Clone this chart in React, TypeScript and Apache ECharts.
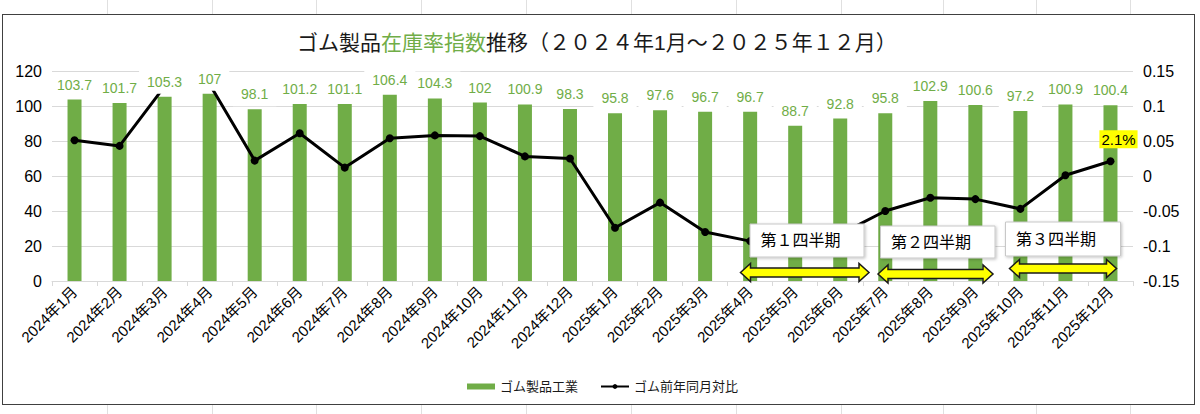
import React, { useEffect, useRef } from "react";
import * as echarts from "echarts";

const categories = [
  "2024年1月", "2024年2月", "2024年3月", "2024年4月", "2024年5月", "2024年6月",
  "2024年7月", "2024年8月", "2024年9月", "2024年10月", "2024年11月", "2024年12月",
  "2025年1月", "2025年2月", "2025年3月", "2025年4月", "2025年5月", "2025年6月",
  "2025年7月", "2025年8月", "2025年9月", "2025年10月", "2025年11月", "2025年12月",
];

const inventoryIndex = [
  103.7, 101.7, 105.3, 107, 98.1, 101.2, 101.1, 106.4, 104.3, 102, 100.9, 98.3,
  95.8, 97.6, 96.7, 96.7, 88.7, 92.8, 95.8, 102.9, 100.6, 97.2, 100.9, 100.4,
];

const yoyRatio = [
  0.051, 0.043, 0.128, 0.131, 0.022, 0.061, 0.012, 0.054, 0.058, 0.057, 0.028, 0.025,
  -0.074, -0.038, -0.08, -0.093, -0.1, -0.083, -0.05, -0.031, -0.033, -0.047, 0.001, 0.021,
];

const leftTicks = { min: 0, max: 120, interval: 20 };
const rightTicks = { min: -0.15, max: 0.15, interval: 0.05 };

const quarterLabels = ["第１四半期", "第２四半期", "第３四半期"];

const sheetColumns = [107, 212, 316, 421, 526, 631, 736, 841, 943, 1036, 1130];

const FONT = "'Liberation Sans', 'Noto Sans CJK JP', sans-serif";
const GREEN = "#70ad47";

function arrowPoints(x1: number, x2: number, cy: number) {
  const hl = 10, hh = 9, sh = 4.5;
  return [
    [x1, cy], [x1 + hl, cy - hh], [x1 + hl, cy - sh], [x2 - hl, cy - sh], [x2 - hl, cy - hh],
    [x2, cy], [x2 - hl, cy + hh], [x2 - hl, cy + sh], [x1 + hl, cy + sh], [x1 + hl, cy + hh],
  ];
}

export default function App() {
  const ref = useRef<HTMLDivElement>(null);

  useEffect(() => {
    if (!ref.current) return;
    const chart = echarts.init(ref.current, undefined, { renderer: "svg" });

    const boxes = [
      { x: 750, y: 224, w: 114, h: 33 },
      { x: 880.5, y: 226, w: 114.5, h: 32 },
      { x: 1005.5, y: 222, w: 115, h: 34 },
    ];
    const arrows = [
      { x1: 740.5, x2: 869, cy: 272.5 },
      { x1: 878, x2: 993, cy: 274 },
      { x1: 1009.5, x2: 1116.5, cy: 268.5 },
    ];

    const graphics: any[] = [];
    boxes.forEach((b, i) => {
      graphics.push({
        type: "rect",
        z: 100,
        shape: { x: b.x, y: b.y, width: b.w, height: b.h },
        style: {
          fill: "#ffffff",
          stroke: "#c8c8c8",
          lineWidth: 1,
          shadowBlur: 3,
          shadowColor: "rgba(0,0,0,0.25)",
          shadowOffsetX: 1,
          shadowOffsetY: 1,
        },
      });
      graphics.push({
        type: "text",
        z: 101,
        x: b.x + 10.5,
        y: b.y + b.h / 2,
        style: {
          text: quarterLabels[i],
          fill: "#000",
          font: `16px ${FONT}`,
          textVerticalAlign: "middle",
          verticalAlign: "middle",
        },
      });
    });
    arrows.forEach((a) => {
      graphics.push({
        type: "polygon",
        z: 100,
        shape: { points: arrowPoints(a.x1, a.x2, a.cy) },
        style: { fill: "#ffff00", stroke: "#1a1a1a", lineWidth: 1.5 },
      });
    });

    const last = yoyRatio.length - 1;

    chart.setOption({
      animation: false,
      textStyle: { fontFamily: FONT },
      title: {
        text: "{a|ゴム製品}{g|在庫率指数}{a|推移（２０２４年1月～２０２５年１２月）}",
        left: 292,
        top: 27,
        textStyle: {
          fontWeight: "normal",
          rich: {
            a: { fontSize: 21, color: "#1a1a1a", fontFamily: FONT, fontWeight: "normal" },
            g: { fontSize: 21, color: GREEN, fontFamily: FONT, fontWeight: "normal" },
          },
        },
      },
      legend: {
        left: 462,
        top: 375,
        itemGap: 22,
        itemWidth: 28,
        itemHeight: 6,
        data: [
          { name: "ゴム製品工業", icon: "rect" },
          { name: "ゴム前年同月対比" },
        ],
        textStyle: { fontSize: 13, color: "#1a1a1a", fontFamily: FONT },
      },
      grid: { left: 52, right: 67, top: 71, bottom: 133 },
      xAxis: {
        type: "category",
        data: categories,
        axisLine: { lineStyle: { color: "#d9d9d9" } },
        axisTick: { show: true, length: 5, lineStyle: { color: "#d9d9d9" } },
        axisLabel: {
          interval: 0,
          rotate: 45,
          fontSize: 15,
          color: "#000",
          margin: 8,
          fontFamily: FONT,
        },
      },
      yAxis: [
        {
          type: "value",
          min: leftTicks.min,
          max: leftTicks.max,
          interval: leftTicks.interval,
          axisLine: { show: false },
          axisTick: { show: false },
          splitLine: { lineStyle: { color: "#d9d9d9" } },
          axisLabel: { fontSize: 16, color: "#000", margin: 10, fontFamily: FONT },
        },
        {
          type: "value",
          min: rightTicks.min,
          max: rightTicks.max,
          interval: rightTicks.interval,
          axisLine: { show: false },
          axisTick: { show: false },
          splitLine: { show: false },
          axisLabel: {
            fontSize: 16,
            color: "#000",
            margin: 10,
            fontFamily: FONT,
            formatter: (v: number) => String(parseFloat(v.toFixed(2))),
          },
        },
      ],
      series: [
        {
          name: "ゴム製品工業",
          type: "bar",
          data: inventoryIndex,
          barWidth: 14,
          barGap: "-100%",
          itemStyle: { color: GREEN },
          z: 2,
        },
        {
          name: "ゴム前年同月対比",
          type: "line",
          yAxisIndex: 1,
          z: 3,
          symbol: "circle",
          symbolSize: 8,
          lineStyle: { color: "#000", width: 3 },
          itemStyle: { color: "#000" },
          data: yoyRatio.map((v, i) =>
            i === last
              ? {
                  value: v,
                  label: {
                    show: true,
                    position: "top",
                    distance: 9,
                    offset: [8, 0],
                    formatter: (p: any) => (p.value * 100).toFixed(1) + "%",
                    backgroundColor: "#ffff00",
                    padding: [2, 2, 1, 2],
                    color: "#000",
                    fontSize: 15,
                    fontFamily: FONT,
                  },
                }
              : v
          ),
        },
        {
          name: "labels",
          type: "bar",
          data: inventoryIndex,
          barWidth: 14,
          barGap: "-100%",
          silent: true,
          z: 5,
          itemStyle: { color: "rgba(0,0,0,0)" },
          label: {
            show: true,
            position: "top",
            distance: 3,
            color: GREEN,
            fontSize: 14,
            lineHeight: 16,
            fontFamily: FONT,
            backgroundColor: "#ffffff",
            padding: [4, 8, 4, 8],
            formatter: (p: any) => String(p.value),
          },
        },
      ],
      graphic: graphics,
    });

    return () => chart.dispose();
  }, []);

  return (
    <div
      style={{
        position: "fixed",
        left: 0,
        top: 0,
        width: 1200,
        height: 414,
        background: "#ffffff",
        overflow: "hidden",
      }}
    >
      {sheetColumns.map((x) => (
        <div
          key={x}
          style={{ position: "absolute", left: x, top: 0, width: 1, height: 414, background: "#e0e0e0" }}
        />
      ))}
      <div
        style={{
          position: "absolute",
          left: 2,
          top: 14,
          width: 1191,
          height: 389,
          border: "1px solid #404040",
          background: "#ffffff",
        }}
      />
      <div ref={ref} style={{ position: "absolute", left: 0, top: 0, width: 1200, height: 414 }} />
    </div>
  );
}
